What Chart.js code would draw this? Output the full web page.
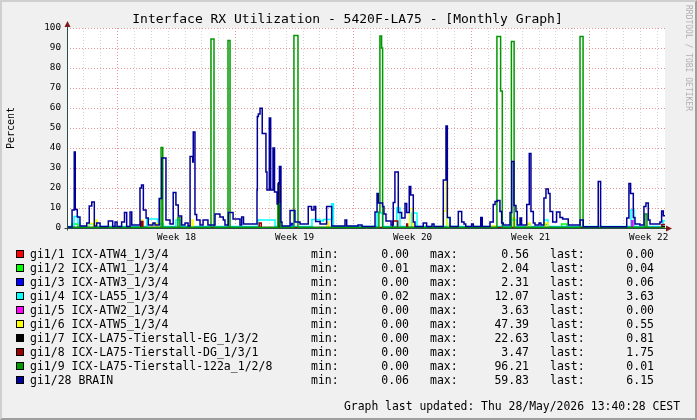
<!DOCTYPE html>
<html>
<head>
<meta charset="utf-8">
<script src="https://cdn.jsdelivr.net/npm/chart.js@4.4.1/dist/chart.umd.min.js"></script>
<style>
html, body { margin: 0; padding: 0; background: #f0f0f0; }
#wrap { position: relative; width: 697px; height: 420px; overflow: hidden; font-family: "DejaVu Sans Mono", monospace; color: #000; }
#frame { position: absolute; left: 0; top: 0; width: 697px; height: 420px; box-sizing: border-box; border: 2px solid; border-color: #cfcfcf #9e9e9e #9e9e9e #cfcfcf; pointer-events: none; }
#chart { position: absolute; left: 0; top: 0; }
#title { position: absolute; left: 0; top: 11px; width: 695px; text-align: center; font-size: 13px; line-height: 16px; white-space: pre; }
#mark { position: absolute; left: 684px; top: 5px; writing-mode: vertical-rl; font-size: 8px; color: #b0b0b0; white-space: pre; }
.t { position: absolute; font-size: 11.5px; line-height: 14px; height: 14px; white-space: pre; }
.r { text-align: right; }
.box { position: absolute; width: 6px; height: 6px; border: 1px solid #000; }
</style>
</head>
<body>
<div id="wrap">
  <canvas id="chart" width="697" height="420"></canvas>
  <div id="title">Interface RX Utilization - 5420F-LA75 - [Monthly Graph]</div>
  <div id="mark">RRDTOOL / TOBI OETIKER</div>
  <div id="legend"></div>
  <div class="t r" style="right:17px; top:399px; font-size:11.4px;">Graph last updated: Thu 28/May/2026 13:40:28 CEST</div>
  <div id="frame"></div>
</div>
<script>
// x = Tage seit Beginn des Graphen (Fr, Woche 17), Werte in Prozent
const weekStarts = [3, 10, 17, 24, 31];
const weekLabelPos = [6.5, 13.5, 20.5, 27.5, 34.5];
const weekLabels = ["Week 18", "Week 19", "Week 20", "Week 21", "Week 22"];
const xEnd = 35.47;

const names = ["gi1/1 ICX-ATW4_1/3/4", "gi1/2 ICX-ATW1_1/3/4", "gi1/3 ICX-ATW3_1/3/4",
  "gi1/4 ICX-LA55_1/3/4", "gi1/5 ICX-ATW2_1/3/4", "gi1/6 ICX-ATW5_1/3/4",
  "gi1/7 ICX-LA75-Tierstall-EG_1/3/2", "gi1/8 ICX-LA75-Tierstall-DG_1/3/1",
  "gi1/9 ICX-LA75-Tierstall-122a_1/2/8", "gi1/28 BRAIN"];
const colors = ["#ff0000", "#00ff00", "#0000ff", "#00ffff", "#ff00ff", "#ffff00",
  "#000000", "#990000", "#009900", "#000099"];
const mins  = [0.00, 0.01, 0.00, 0.02, 0.00, 0.00, 0.00, 0.00, 0.00, 0.06];
const maxs  = [0.56, 2.04, 2.31, 12.07, 3.63, 47.39, 22.63, 3.47, 96.21, 59.83];
const lasts = [0.00, 0.04, 0.06, 3.63, 0.00, 0.55, 0.81, 1.75, 0.01, 6.15];

// Stufenpunkte [Tag, Wert] - Wert gilt bis zum nächsten Punkt
const gi1_1 = [[0,0.05],[3.50,0.56],[3.60,0.05],[19.40,0.4],[19.50,0.05],[35.47,0]];
const gi1_2 = [[0,0.1],[0.30,2.0],[0.65,0.1],[27.28,2.0],[27.46,0.1],[28.35,1.8],[28.53,0.1],
  [29.34,2.04],[29.64,0.1],[35.47,0.04]];
const gi1_3 = [[0,0.1],[13.30,2.31],[13.40,0.1],[35.47,0.06]];
const gi1_4 = [[0,0.7],[0.42,5.7],[0.65,2.5],[0.77,0.7],[1.30,2],[1.60,0.7],
  [4.74,4.5],[5.40,2],[5.70,0.7],[6.46,4],[6.70,0.7],
  [11.33,4],[12.34,0.7],[14.53,4.3],[15.00,3.5],[15.20,4.3],[15.70,12.07],[15.80,0.7],
  [18.39,7.5],[18.74,0.7],[19.56,10],[19.75,0.7],[20.46,7.5],[20.76,0.7],
  [22.54,5],[22.72,0.7],[26.28,4],[26.69,0.7],[28.29,4],[28.53,0.7],
  [33.45,9],[33.63,0.7],[35.35,3.63],[35.47,3.63]];
const gi1_5 = [[0,0],[33.50,3.63],[33.56,0],[35.47,0]];
const gi1_6 = [[0,0.1],[1.25,2.3],[1.55,0.1],[1.72,4],[1.78,0.1],[4.42,4],[4.48,0.1],
  [5.04,2.3],[5.34,0.1],[7.41,4],[7.47,0.1],[15.40,3],[15.52,0.1],
  [20.34,9.8],[20.52,0.1],[22.28,8.5],[22.49,47.39],[22.54,2],[22.60,0.1],
  [25.21,1],[25.39,0.1],[26.38,5],[26.57,0.1],[27.28,2.5],[27.46,0.1],
  [28.35,2.5],[28.53,0.1],[35.40,0.55],[35.47,0.55]];
const gi1_7 = [[0,0.3],[4.38,3],[4.45,0.3],[12.55,22.63],[12.65,0.3],[35.30,0.81],[35.47,0.81]];
const gi1_8 = [[0,0.1],[4.42,3.2],[4.50,0.1],[11.40,2.5],[11.52,0.1],[19.31,3.47],[19.62,0.1],
  [20.15,2],[20.20,0.1],[35.28,1.75],[35.47,1.75]];
const gi1_9 = [[0,0.2],[5.58,40.3],[5.68,0.2],[6.58,5.3],[6.70,0.2],
  [8.54,94.5],[8.72,0.2],[9.55,93.7],[9.67,0.2],[12.51,12],[12.65,0.2],
  [13.46,96.21],[13.70,0.2],[18.50,8],[18.56,96],[18.66,90],[18.72,0.2],
  [25.50,95.7],[25.72,68.5],[25.82,0.2],[26.36,93.2],[26.52,0.2],
  [30.43,95.7],[30.61,0.2],[34.28,7],[34.40,0.01],[35.47,0.01]];
const gi1_28 = [
  [0.00,0.5],[0.30,9],[0.43,38],[0.49,9.3],[0.61,5.5],[0.77,1],
  [1.17,2.5],[1.32,11],[1.47,13],[1.62,1],[1.76,2.5],[1.96,0.8],
  [2.45,3.5],[2.71,0.8],[2.85,3],[2.97,0.8],
  [3.24,3],[3.41,7.7],[3.54,0.8],[3.74,8],[3.84,1.5],
  [4.33,20],[4.42,21.5],[4.53,9],[4.69,5],[4.82,1.5],
  [5.10,2.5],[5.22,1.5],[5.47,14.8],[5.62,35],[5.87,4],
  [6.11,2],[6.30,17.8],[6.46,11.5],[6.60,6],[6.80,1.5],
  [7.00,2.5],[7.18,1],[7.30,35.7],[7.46,33],[7.49,48],[7.59,6.7],[7.69,4],
  [7.89,1.5],[8.07,4],[8.36,1.5],[8.78,7],[9.07,5.5],[9.27,4],[9.37,1.5],
  [9.57,7.7],[9.85,4.5],[10.26,1.5],[10.36,5.5],[10.47,2],
  [11.27,19],[11.29,55.7],[11.35,57],[11.45,59.83],[11.58,47.3],[11.80,28],[11.86,19],
  [12.00,55],[12.08,19],[12.22,40],[12.31,18],[12.46,12],[12.52,22],[12.60,30.7],[12.69,3],[12.75,1],
  [13.23,8.7],[13.52,3],[13.82,2],
  [14.31,10.7],[14.51,9],[14.65,10.7],[14.75,3.3],
  [15.01,2],[15.40,10.7],[15.70,1],
  [16.49,4],[16.59,1],[17.26,1.5],[17.50,0.8],
  [18.27,8],[18.39,17.3],[18.46,12.5],[18.72,10.7],[18.80,7],[18.92,3.5],[19.22,1.5],
  [19.35,12.7],[19.45,28],[19.65,7.8],[19.85,5],
  [20.05,12.2],[20.15,7.8],[20.30,20.7],[20.39,16.5],[20.54,3],[20.64,0.8],
  [21.13,2.5],[21.33,0.8],[21.65,2],[21.77,0.8],
  [22.32,24],[22.48,51],[22.56,5.3],[22.72,0.7],
  [23.21,8.2],[23.41,3],[23.55,2],[23.65,0.8],
  [24.00,2],[24.10,0.8],[24.54,5.3],[24.63,0.7],
  [25.09,3],[25.28,11.7],[25.39,13.3],[25.52,13.7],[25.68,8.3],[25.78,2.5],[25.88,1.5],
  [26.28,7.7],[26.38,33.2],[26.51,11.2],[26.63,8.3],[26.71,1.5],[26.87,5],[26.96,1.5],
  [27.27,11.7],[27.42,37.3],[27.52,8.2],[27.66,2.5],[27.76,1.5],
  [28.00,2.5],[28.11,1.5],[28.29,15],[28.41,19.5],[28.55,17.3],[28.65,8.2],[28.81,3],
  [29.04,8],[29.24,5.3],[29.40,4.5],[29.73,1.5],
  [30.43,4],[30.62,0.6],
  [31.51,23.2],[31.65,0.6],
  [33.20,5],[33.33,22.3],[33.43,17.3],[33.59,5.3],[33.69,2],[33.98,1.5],
  [34.22,10.7],[34.34,12.5],[34.48,4],[34.58,2],
  [35.17,3],[35.27,8.5],[35.37,6.15],[35.47,6.15]];

const series = [gi1_1, gi1_2, gi1_3, gi1_4, gi1_5, gi1_6, gi1_7, gi1_8, gi1_9, gi1_28];

// ----- Legende unten -----
const legend = document.getElementById("legend");
function addText(txt, left, top, right) {
  const d = document.createElement("div");
  d.className = right ? "t r" : "t";
  d.textContent = txt;
  d.style.top = top + "px";
  if (right) { d.style.right = (697 - left) + "px"; } else { d.style.left = left + "px"; }
  legend.appendChild(d);
}
names.forEach((n, i) => {
  const top = 247 + i * 14;
  const b = document.createElement("div");
  b.className = "box";
  b.style.left = "16px";
  b.style.top = (top + 3) + "px";
  b.style.background = colors[i];
  legend.appendChild(b);
  addText(n, 30, top);
  addText("min:", 311, top);
  addText(mins[i].toFixed(2), 409, top, true);
  addText("max:", 430, top);
  addText(maxs[i].toFixed(2), 529, top, true);
  addText("last:", 550, top);
  addText(lasts[i].toFixed(2), 654, top, true);
});

// ----- Hintergrund, Achsen, Pfeile -----
const rrdLook = {
  id: "rrdLook",
  beforeDraw(chart) {
    const { ctx, chartArea: a } = chart;
    ctx.save();
    ctx.fillStyle = "#ffffff";
    ctx.fillRect(a.left, a.top, a.right - a.left, a.bottom - a.top);
    ctx.restore();
  },
  afterDatasetsDraw(chart) {
    const { ctx, chartArea: a } = chart;
    const x0 = Math.round(a.left) + 0.5, y0 = Math.round(a.bottom) + 0.5;
    ctx.save();
    ctx.strokeStyle = "#2c4d43";
    ctx.lineWidth = 1;
    ctx.beginPath();
    ctx.moveTo(x0, y0 + 2); ctx.lineTo(x0, a.top - 3);
    ctx.moveTo(x0 - 3, y0); ctx.lineTo(a.right + 3, y0);
    ctx.stroke();
    ctx.fillStyle = "#7f1818";
    ctx.beginPath();
    ctx.moveTo(x0, a.top - 7); ctx.lineTo(x0 - 3, a.top - 1); ctx.lineTo(x0 + 3, a.top - 1);
    ctx.closePath(); ctx.fill();
    ctx.beginPath();
    ctx.moveTo(a.right + 7, y0); ctx.lineTo(a.right + 1, y0 - 3); ctx.lineTo(a.right + 1, y0 + 3);
    ctx.closePath(); ctx.fill();
    ctx.restore();
  }
};

const axisFont = { family: "DejaVu Sans Mono", size: 9.3 };
const minorGrid = "#d4d4d4";
const majorGrid = "#e49494";

new Chart(document.getElementById("chart"), {
  type: "line",
  data: {
    datasets: series.map((s, i) => ({
      label: names[i],
      data: s.map(p => ({ x: p[0], y: p[1] })),
      borderColor: colors[i],
      borderWidth: 1.5,
      pointRadius: 0,
      stepped: "before",
      fill: false,
      order: series.length - i
    }))
  },
  options: {
    responsive: false,
    animation: false,
    events: [],
    layout: { padding: { top: 28, right: 32, bottom: 172, left: 0 } },
    plugins: { legend: { display: false }, tooltip: { enabled: false } },
    scales: {
      x: {
        type: "linear",
        min: 0,
        max: xEnd,
        afterBuildTicks: s => {
          const t = [];
          for (let d = 0; d <= 35; d++) t.push({ value: d });
          weekLabelPos.forEach(v => t.push({ value: v }));
          s.ticks = t.sort((a, b) => a.value - b.value);
        },
        afterFit: s => { s.height = 20; },
        ticks: {
          autoSkip: false,
          maxRotation: 0,
          padding: 4,
          color: "#000",
          font: axisFont,
          callback: v => {
            const i = weekLabelPos.indexOf(v);
            return i >= 0 ? weekLabels[i] : "";
          }
        },
        grid: {
          drawTicks: false,
          color: c => {
            const v = c.tick ? c.tick.value : 0;
            if (weekLabelPos.includes(v)) return "rgba(0,0,0,0)";
            return weekStarts.includes(v) ? majorGrid : minorGrid;
          }
        },
        border: { display: false, dash: [1, 2] }
      },
      y: {
        min: 0,
        max: 100,
        afterFit: s => { s.width = 67; },
        ticks: {
          stepSize: 5,
          padding: 6,
          color: "#000",
          font: axisFont,
          callback: v => (v % 10 === 0 ? v : "")
        },
        grid: {
          drawTicks: false,
          color: c => (c.tick && c.tick.value % 10 === 0 ? majorGrid : minorGrid)
        },
        border: { display: false, dash: [1, 2] },
        title: { display: true, text: "Percent", color: "#000", font: { family: "DejaVu Sans Mono", size: 10 }, padding: { top: 5, bottom: 0 } }
      }
    }
  },
  plugins: [rrdLook]
});
</script>
</body>
</html>
